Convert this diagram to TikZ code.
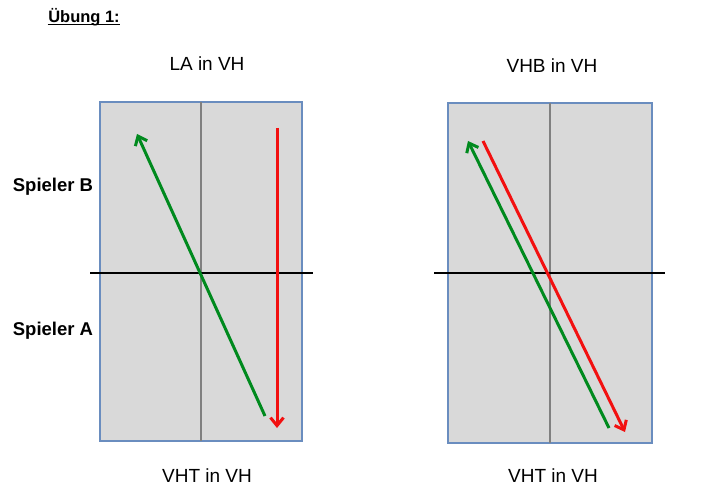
\documentclass[tikz,border=0pt]{standalone}
\usepackage{fontspec}
\setmainfont{Liberation Sans}
\usepackage{tikz}
\usetikzlibrary{arrows.meta}
\definecolor{courtgray}{HTML}{D9D9D9}
\definecolor{courtblue}{HTML}{6A8DBF}
\definecolor{ballgreen}{HTML}{008A1E}
\definecolor{ballred}{HTML}{F21010}
\tikzstyle{arr}=[-{Straight Barb[length=8pt,width=13pt]},line width=3pt]

\begin{document}
\begin{tikzpicture}[x=1pt,y=-1pt]
  \tikzstyle courtS=[line width=1.8pt,draw=courtblue,fill=courtgray];
  \tikzstyle lbl=[font=\fontsize{19}{21}\selectfont];
  \useasboundingbox (0,0) rectangle (715,500);
  \node[font=\fontsize{16.5}{18}\selectfont\bfseries] (title) at (84,17) {Übung 1:};
  \draw[line width=1.4pt] ([yshift=-2pt]title.base west) ++(3pt,0) -- ([yshift=-2pt,xshift=-3pt]title.base east);
  % courts: left/right edge, top, bottom, net ends
  \foreach \c/\xl/\xr/\yt/\yb/\nl/\nr/\ny in {
    L/100/302/102/441/90/313/273,
    R/448/652/103/443/434/665/273}
  {
    \draw[courtS] (\xl,\yt) rectangle (\xr,\yb);
    \draw[line width=1.3pt,draw=gray] ({(\xl+\xr)/2},\yt) -- ({(\xl+\xr)/2},\yb);
    \coordinate (net\c W) at (\nl,\ny);
    \coordinate (net\c E) at (\nr,\ny);
    \draw[line width=1.6pt] (net\c W) -- (net\c E);
  }
  \node[lbl] (topL) at (207,64) {LA in VH};
  \node[lbl] (topR) at (552,66) {VHB in VH};
  \node[lbl] (botL) at (207,476) {VHT in VH};
  \node[lbl] (botR) at (553,476) {VHT in VH};
  \node[lbl,font=\fontsize{18.5}{20}\selectfont\bfseries] (playB) at (53,187) {Spieler B};
  \node[lbl,font=\fontsize{18.5}{20}\selectfont\bfseries] (playA) at (53,331) {Spieler A};
  % shots
  \coordinate (gL1) at (265,416); \coordinate (gL2) at (137,134);
  \coordinate (rL1) at (277,128); \coordinate (rL2) at (277,428);
  \coordinate (gR1) at (609,428); \coordinate (gR2) at (468,141);
  \coordinate (rR1) at (483,141); \coordinate (rR2) at (625,432);
  \draw[arr,ballgreen] (gL1) -- (gL2);
  \draw[arr,ballred] (rL1) -- (rL2);
  \draw[arr,ballgreen] (gR1) -- (gR2);
  \draw[arr,ballred] (rR1) -- (rR2);
\end{tikzpicture}
\end{document}
